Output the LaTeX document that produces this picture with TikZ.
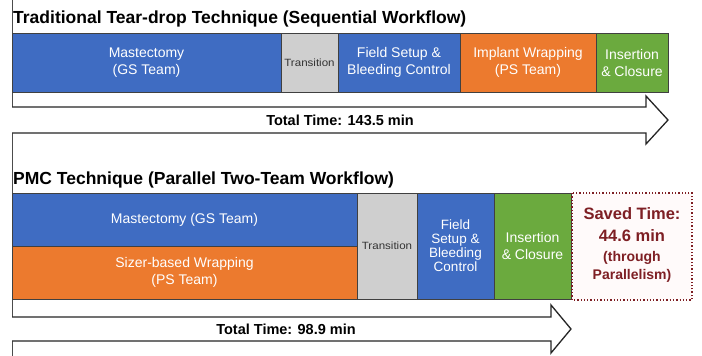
\documentclass[tikz,border=0pt]{standalone}
\usepackage{fontspec}
\setmainfont{Liberation Sans}
\definecolor{cblue}{HTML}{3F6CC2}
\definecolor{corange}{HTML}{EC7A2E}
\definecolor{cgreen}{HTML}{6BAA3E}
\definecolor{cgray}{HTML}{CFCFCF}
\definecolor{cred}{HTML}{7E1F24}
\begin{document}
\begin{tikzpicture}[x=1pt,y=-1pt,
  phase/.style={draw=black!75,line width=0.8pt,inner sep=0pt,align=center,text=white,font=\fontsize{14}{17}\selectfont},
  tight/.style={font=\fontsize{13.5}{17}\selectfont},
  trans/.style={text=black!80,font=\fontsize{10.5}{12}\selectfont},
  title/.style={anchor=base west,inner sep=0pt,font=\fontsize{17.5}{20}\selectfont\bfseries},
  arr/.style={draw=black!85,line width=1.3pt,fill=white,line join=miter},
  arrtext/.style={inner sep=0pt,font=\fontsize{14.5}{16}\selectfont\bfseries},
  saved/.style={align=center,text=cred,inner sep=0pt,font=\fontsize{16.5}{21}\selectfont\bfseries}]
\useasboundingbox (0,0) rectangle (702,356);
\fill[white] (0,0) rectangle (702,356);
% left rule
\coordinate (lt) at (12,0);
\coordinate (lb) at (12,356);
\draw[black!70,line width=1pt] (lt) -- (lb);
% ---- Traditional
\node[title] (t1) at (13,23.5) {Traditional Tear-drop Technique (Sequential Workflow)};
\path[phase,fill=cblue] (12,33) rectangle (281,92) node[midway] (a1) {Mastectomy\\(GS Team)};
\path[phase,fill=cgray,trans] (281,33) rectangle (338,92) node[midway] (a2) {\scalebox{1.1}[1]{Transition}};
\path[phase,fill=cblue] (338,33) rectangle (460,92) node[midway] (a3) {Field Setup \&\\Bleeding Control};
\path[phase,fill=corange] (460,33) rectangle (596,92) node[midway] (a4) {Implant Wrapping\\(PS Team)};
\path[phase,fill=cgreen] (596,33) rectangle (668,92) node[midway] (a5) {Insertion\\\& Closure};
\draw[arr] (12,107) -- (646,107) -- (646,96) -- (668,120) -- (646,144) -- (646,133) -- (12,133);
\node[arrtext] (tt1) at (340,120) {Total Time: 143.5 min};
% ---- PMC
\node[title] (t2) at (13,184) {PMC Technique (Parallel Two-Team Workflow)};
\path[phase,fill=cblue] (12,193) rectangle (357,246) node[midway] (b1) {Mastectomy (GS Team)};
\path[phase,fill=corange] (12,246) rectangle (357,299) node[midway] (b2) {Sizer-based Wrapping\\(PS Team)};
\path[phase,fill=cgray,trans] (357,193) rectangle (417,299) node[midway] (b3) {\scalebox{1.1}[1]{Transition}};
\path[phase,fill=cblue,tight] (417,193) rectangle (494,299) node[midway] (b4) {Field\\[-3pt]Setup \&\\[-3pt]Bleeding\\[-3pt]Control};
\path[phase,fill=cgreen] (494,193) rectangle (571,299) node[midway] (b5) {Insertion\\\& Closure};
\draw[cred,line width=1.3pt,dotted,fill=red!2] (572,193) rectangle (692,300);
\node[saved] (b6) at (632,245)
  {Saved Time:\\[1pt]44.6 min\\[-1pt]{\fontsize{14}{17}\selectfont (through}\\[-3pt]{\fontsize{14}{17}\selectfont Parallelism)}};
\draw[arr] (12,317) -- (551,317) -- (551,305) -- (571,329) -- (551,353) -- (551,341) -- (12,341);
\node[arrtext] (tt2) at (286,329) {Total Time: 98.9 min};
\end{tikzpicture}
\end{document}
